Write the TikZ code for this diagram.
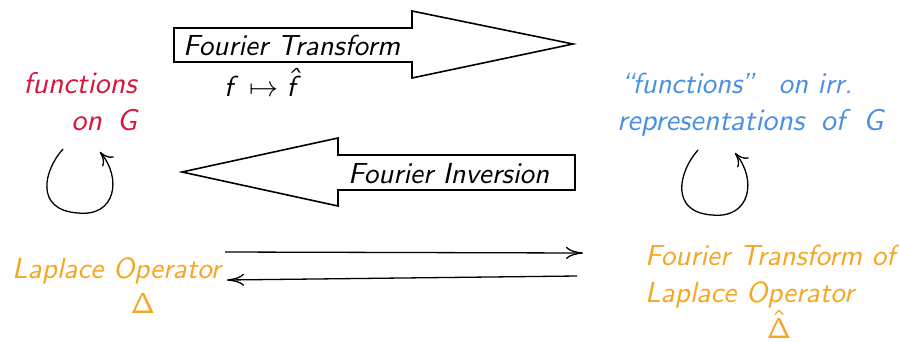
\RequirePackage{fix-cm}
\documentclass[tikz,border=0pt]{standalone}
\usetikzlibrary{arrows.meta}
\definecolor{cred}{RGB}{214,22,58}
\definecolor{cblue}{RGB}{74,144,226}
\definecolor{corange}{RGB}{245,166,35}
\font\lbfont=cmssi10 at 29pt
\font\lbfontbig=cmssi10 at 30pt
\font\lbfontup=cmss10 at 29pt
\newcommand{\lblfont}{\fontsize{29}{37}\selectfont\lbfont}
\newcommand{\lblfontbig}{\fontsize{30}{37}\selectfont\lbfontbig}
\tikzset{
  lbl/.style={inner sep=0pt, font=\lblfont},
  lblbig/.style={inner sep=0pt, font=\lblfontbig},
  bigarrow/.style={draw=black, line width=1.6pt, fill=white, line join=miter},
  thinarrow/.style={line width=1.3pt, -{Computer Modern Rightarrow[length=17pt,width=12pt]}},
  looparrow/.style={line width=1.3pt, -{Computer Modern Rightarrow[length=13pt,width=15pt]}}
}
\begin{document}
\begin{tikzpicture}[x=1pt,y=-1pt]
\useasboundingbox[fill=white] (0,0) rectangle (899,341);
% big arrows
\draw[bigarrow] (174,28) -- (412,28) -- (412,11) -- (573,44) -- (412,78) -- (412,62) -- (174,62) -- cycle;
\draw[bigarrow] (575,155) -- (338,155) -- (338,138) -- (182,172) -- (338,206) -- (338,190) -- (575,190) -- cycle;
\node[lbl, anchor=base west] (ft) at (183,55) {Fourier Transform};
\node[lbl, anchor=base west] (fi) at (348,183) {Fourier Inversion};
\node[lbl, anchor=base west] (map) at (224,96) {f\hspace{0.55em}$\mapsto$\hspace{0.3em}\accent94 f};
% texts
\node[lblbig, anchor=base east, text=cred] (fg1) at (137,93) {functions};
\node[lblbig, anchor=base east, text=cred] (fg2) at (137,130) {on\hspace{0.5em}G};
\node[lbl, anchor=base west, text=cblue] (fr1) at (618,93) {``functions''\hspace{0.75em}on irr.};
\node[lblbig, anchor=base west, text=cblue] (fr2) at (617,130) {representations\hspace{0.55em}of\hspace{0.6em}G};
\node[lbl, anchor=base west, text=corange] (lp1) at (12,278) {Laplace Operator};
\node[lbl, anchor=base, text=corange, font=\lbfontup] (lp2) at (143,313) {\char1};
\node[lbl, anchor=base west, text=corange] (fl1) at (645,265) {Fourier Transform of};
\node[lbl, anchor=base west, text=corange] (fl2) at (645,302) {Laplace Operator};
\node[lbl, anchor=base, text=corange, font=\lbfontup] (fl3) at (779,338) {\accent94\char1};
% loops
\coordinate (ls) at (63,149);
\coordinate (lb) at (78,213);
\coordinate (le) at (100,152);
\draw[looparrow] (ls) .. controls (44,170) and (34,210) .. (lb) .. controls (116,217) and (122,178) .. (le);
\coordinate (rs) at (698,150);
\coordinate (rb) at (712,215);
\coordinate (re) at (735,153);
\draw[looparrow] (rs) .. controls (679,171) and (669,212) .. (rb) .. controls (751,219) and (757,179) .. (re);
% horizontal arrows
\coordinate (h1s) at (225,252);
\coordinate (h1e) at (583,253);
\coordinate (h2s) at (577,276);
\coordinate (h2e) at (227,280);
\draw[thinarrow] (h1s) -- (h1e);
\draw[thinarrow] (h2s) -- (h2e);
\end{tikzpicture}
\end{document}
